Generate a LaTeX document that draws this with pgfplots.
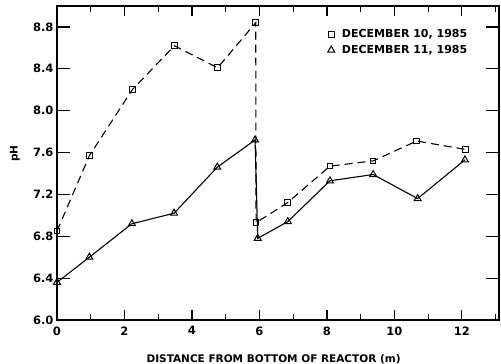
\documentclass[border=0pt]{standalone}
\usepackage{fontspec}
\setmainfont{DejaVu Sans}
\usepackage{pgfplots}
\pgfplotsset{compat=1.18}
\begin{document}
\begin{tikzpicture}
\begin{axis}[
  name=ax,
  scale only axis,
  width=442pt, height=314pt,
  xmin=0, xmax=13.1, ymin=6, ymax=9,
  xtick={0,2,4,6,8,10,12},
  minor xtick={1,3,5,7,9,11,13},
  ytick={6.0,6.4,6.8,7.2,7.6,8.0,8.4,8.8},
  tick align=inside,
  major tick length=10pt,
  minor tick length=6pt,
  every tick/.style={black, line width=1.2pt},
  ytick style={/pgfplots/major tick length=13pt},
  axis line style={line width=1.5pt},
  /pgf/number format/assume math mode=true,
  yticklabel style={/pgf/number format/fixed,/pgf/number format/precision=1,/pgf/number format/fixed zerofill},
  xticklabel style={yshift=-3pt},
  tick label style={font=\fontsize{11.5}{13}\selectfont\bfseries},
  xlabel={DISTANCE FROM BOTTOM OF REACTOR (m)},
  ylabel={pH},
  every axis x label/.style={at={(axis description cs:0.49,0)},anchor=north,yshift=-31pt,font=\fontsize{10.5}{12}\selectfont\bfseries},
  every axis y label/.style={at={([xshift=-42pt]axis description cs:0,0.53)},rotate=90,anchor=center,font=\fontsize{10.5}{12}\selectfont\bfseries},
  legend style={draw=none, fill=none, at={(rel axis cs:0.61,0.935)}, anchor=north west,
    font=\fontsize{11}{13}\selectfont\bfseries, row sep=2pt, inner sep=1pt,
    nodes={inner xsep=3pt}},
  legend cell align=left,
  legend image code/.code={\path (0.25cm,0cm); \draw[#1, only marks] plot coordinates {(0cm,0cm)};},
]
\addplot[black, line width=1.1pt, dash pattern=on 8pt off 5pt, mark=square, mark size=2.8pt, mark options={solid, line width=1pt}]
coordinates {
(0,6.85) (0.96,7.57) (2.23,8.20) (3.48,8.62) (4.76,8.41) (5.89,8.84)
(5.90,6.93) (6.83,7.12) (8.09,7.47) (9.37,7.52) (10.66,7.71) (12.1,7.63)
};
\addlegendentry{DECEMBER 10, 1985}
\addplot[black, line width=1.1pt, mark=triangle, mark size=4pt, mark options={solid, line width=1pt}]
coordinates {
(0,6.36) (0.96,6.60) (2.22,6.92) (3.47,7.02) (4.75,7.46) (5.87,7.72)
(5.95,6.78) (6.84,6.94) (8.09,7.33) (9.37,7.39) (10.69,7.16) (12.09,7.53)
};
\addlegendentry{DECEMBER 11, 1985}
\end{axis}
\pgfresetboundingbox
\path ([shift={(-57pt,-44pt)}]ax.south west) rectangle ([shift={(2pt,6pt)}]ax.north east);
\end{tikzpicture}
\end{document}
